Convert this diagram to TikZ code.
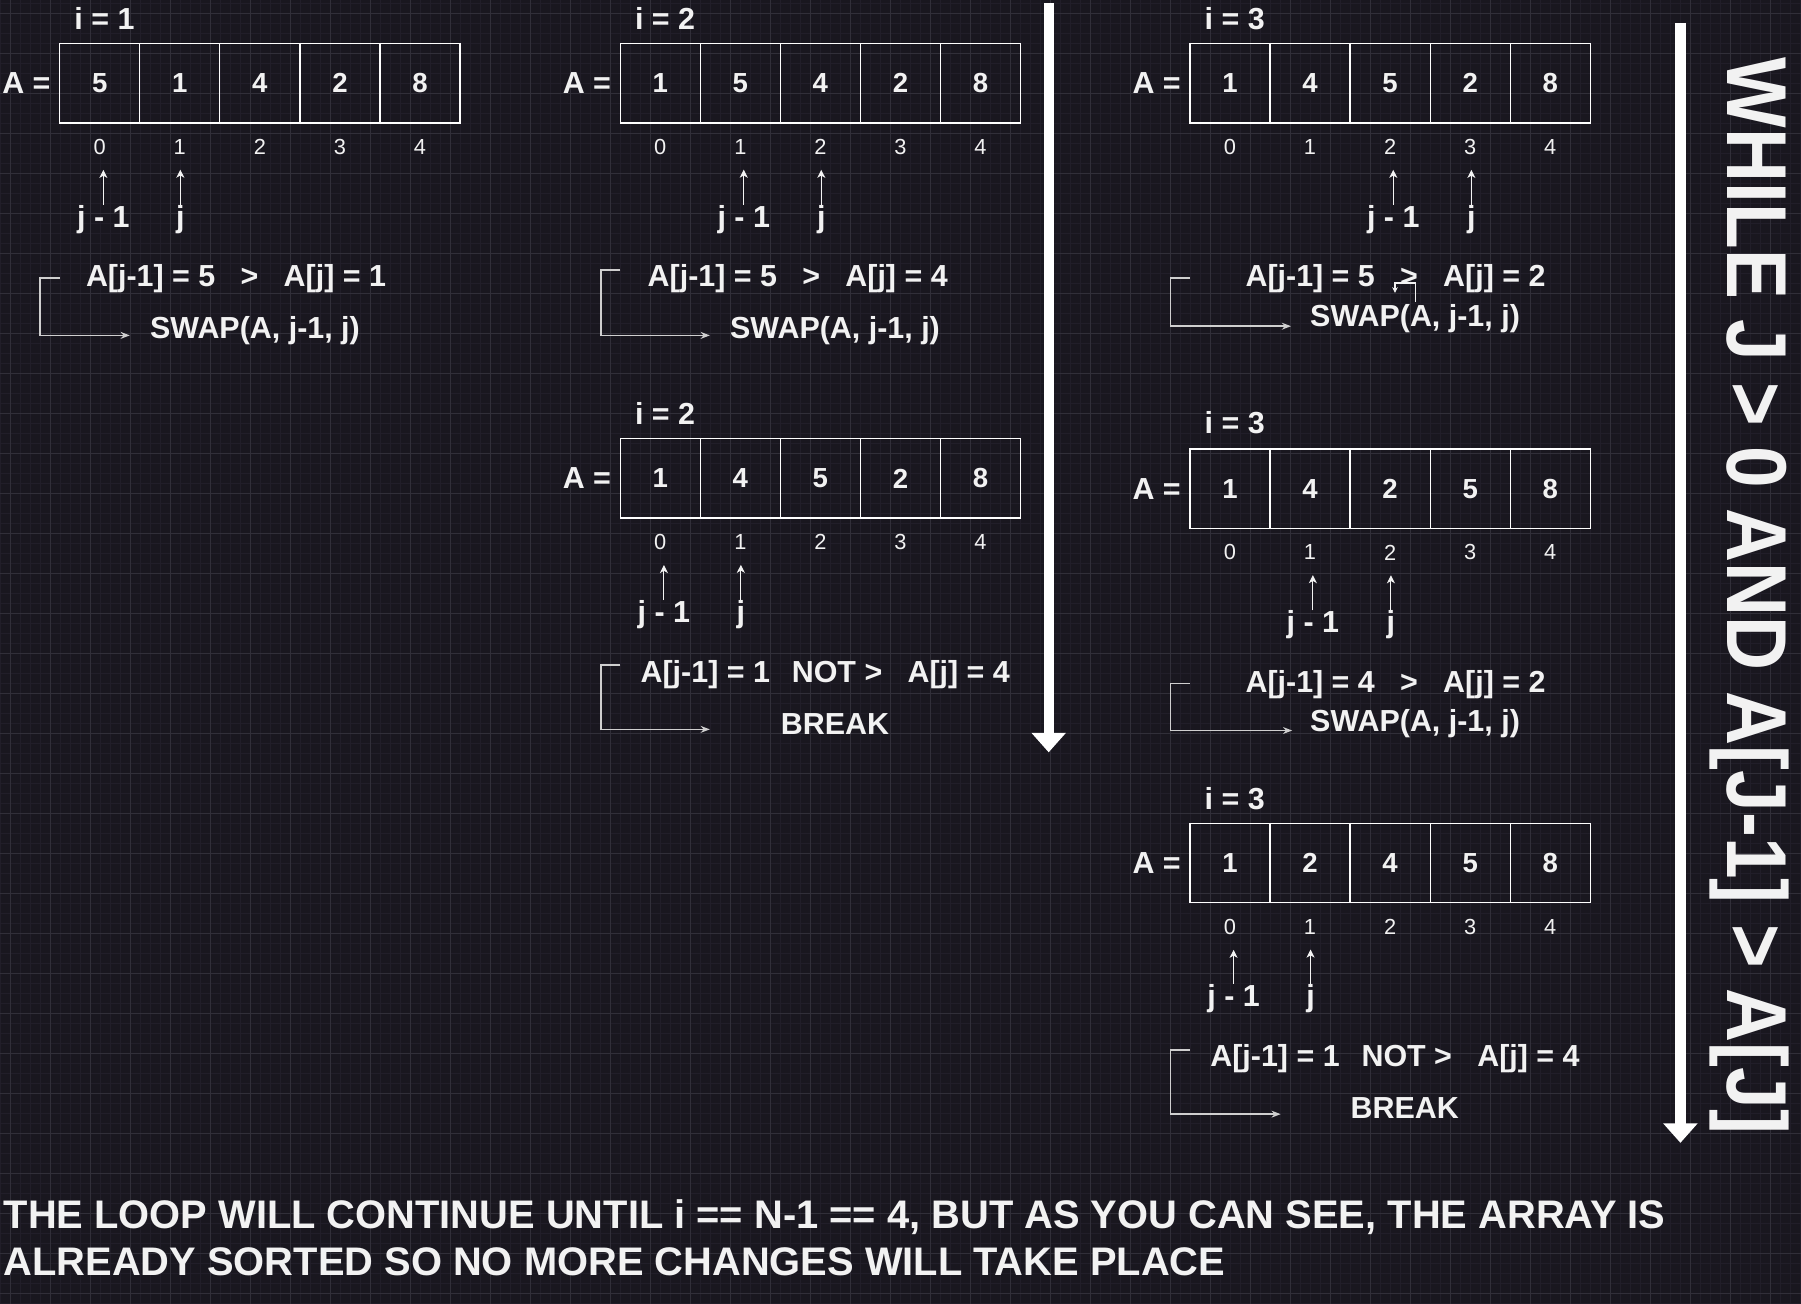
\documentclass[tikz,border=0pt]{standalone}
\usepackage{fontspec}
\setmainfont{Liberation Sans}
\newfontfamily\tallfont{Liberation Sans}[FakeStretch=0.88]
\usetikzlibrary{arrows.meta,positioning}
\definecolor{bgdark}{HTML}{19171F}
\definecolor{gridminor}{HTML}{211E29}
\definecolor{gridmajor}{HTML}{312F39}
\definecolor{txtwhite}{HTML}{F2F2F2}
\definecolor{linegray}{HTML}{CFCFCF}
\tikzset{
  lbl/.style={text=txtwhite, inner sep=0pt, font=\bfseries\fontsize{26.5}{30}\selectfont},
  cell/.style={draw=white, line width=1.1pt, minimum width=69.7pt, minimum height=69pt,
    inner sep=0pt, text=txtwhite, font=\bfseries\fontsize{24}{26}\selectfont},
  idx/.style={text=txtwhite, inner sep=0pt, font=\fontsize{19}{22}\selectfont},
  ptr/.style={draw=txtwhite, line width=0.9pt, shorten >=13pt,
    -{Stealth[length=7pt,width=7pt,inset=2pt]}},
  elbowline/.style={draw=linegray, line width=1.4pt, -{Stealth[length=8pt,width=6pt]}},
  straytip/.style={draw=txtwhite, line width=1pt, -{Stealth[length=5pt,width=5pt]}},
  loopline/.style={draw=white, line width=9pt, -{Triangle[length=17pt,width=29pt]}},
}
\begin{document}
\begin{tikzpicture}[x=1pt,y=-1pt]
\fill[bgdark] (0,0) rectangle (1568,1135);
\useasboundingbox (0,0) rectangle (1568,1135);
% background grid
\foreach \gx in {0,...,180} \draw[gridminor,line width=0.6pt] ({8.706*\gx},0) -- ({8.706*\gx},1135);
\foreach \gy in {0,...,130} \draw[gridminor,line width=0.6pt] (0,{2.6+8.706*\gy}) -- (1568,{2.6+8.706*\gy});
\foreach \gx in {0,...,45} \draw[gridmajor,line width=0.8pt] ({8.71+34.83*\gx},0) -- ({8.71+34.83*\gx},1135);
\foreach \gy in {0,...,32} \draw[gridmajor,line width=0.8pt] (0,{11.3+34.83*\gy}) -- (1568,{11.3+34.83*\gy});

% i = 1
\node[lbl] (t1) at (91,16) {i = 1};
\node[lbl] (eq1) at (23,72.5) {A =};
\foreach \v [count=\k from 0] in {5,1,4,2,8}{
  \node[cell] (r1c\k) at ({86.85+69.7*\k},72.5) {\v};
  \node[idx] (r1i\k) at ({86.85+69.7*\k},128) {\k};
}
\node[lbl] (r1p) at (90,191) {j - 1};
\node[lbl] (r1q) at (157,191) {j};
\draw[ptr] (r1p.north) -- (r1p.north |- r1i0.south);
\draw[ptr] (r1q.north) -- (r1q.north |- r1i1.south);
\node[lbl] (c1) at (205.5,243) {A[j-1] = 5\hspace{22pt}>\hspace{22pt}A[j] = 1};
\node[lbl] (s1) at (222,288) {SWAP(A, j-1, j)};
\coordinate (b1a) at (52,242);
\coordinate (b1b) at (113,292);
\draw[elbowline] (b1a) -- ++(-17,0) |- (b1b);

% i = 2, first pass
\node[lbl] (t2) at (579,16) {i = 2};
\node[lbl] (eq2) at (511,72.5) {A =};
\foreach \v [count=\k from 0] in {1,5,4,2,8}{
  \node[cell] (r2c\k) at ({574.85+69.7*\k},72.5) {\v};
  \node[idx] (r2i\k) at ({574.85+69.7*\k},128) {\k};
}
\node[lbl] (r2p) at (647.5,191) {j - 1};
\node[lbl] (r2q) at (715,191) {j};
\draw[ptr] (r2p.north) -- (r2p.north |- r2i1.south);
\draw[ptr] (r2q.north) -- (r2q.north |- r2i2.south);
\node[lbl] (c2) at (694.5,243) {A[j-1] = 5\hspace{22pt}>\hspace{22pt}A[j] = 4};
\node[lbl] (s2) at (727,288) {SWAP(A, j-1, j)};
\coordinate (b2a) at (540,235);
\coordinate (b2b) at (618,292);
\draw[elbowline] (b2a) -- ++(-17,0) |- (b2b);

% i = 2, second pass
\node[lbl] (t3) at (579,360) {i = 2};
\node[lbl] (eq3) at (511,416.5) {A =};
\foreach \v [count=\k from 0] in {1,4,5,2,8}{
  \node[cell] (r3c\k) at ({574.85+69.7*\k},416.5) {\v};
  \node[idx] (r3i\k) at ({574.85+69.7*\k},472) {\k};
}
\node[lbl] (r3p) at (578,535) {j - 1};
\node[lbl] (r3q) at (645,535) {j};
\draw[ptr] (r3p.north) -- (r3p.north |- r3i0.south);
\draw[ptr] (r3q.north) -- (r3q.north |- r3i1.south);
\node[lbl] (c3) at (718.5,587) {A[j-1] = 1\hspace{19pt}NOT >\hspace{22pt}A[j] = 4};
\node[lbl] (s3) at (727,630) {BREAK};
\coordinate (b3a) at (540,579);
\coordinate (b3b) at (618,635);
\draw[elbowline] (b3a) -- ++(-17,0) |- (b3b);

% loop arrow, middle
\coordinate (l1a) at (913,3);
\coordinate (l1b) at (913,655);
\draw[loopline] (l1a) -- (l1b);

% i = 3, first pass
\node[lbl] (t4) at (1075,16) {i = 3};
\node[lbl] (eq4) at (1007,72.5) {A =};
\foreach \v [count=\k from 0] in {1,4,5,2,8}{
  \node[cell] (r4c\k) at ({1070.85+69.7*\k},72.5) {\v};
  \node[idx] (r4i\k) at ({1070.85+69.7*\k},128) {\k};
}
\node[lbl] (r4p) at (1213,191) {j - 1};
\node[lbl] (r4q) at (1281,191) {j};
\draw[ptr] (r4p.north) -- (r4p.north |- r4i2.south);
\draw[ptr] (r4q.north) -- (r4q.north |- r4i3.south);
\node[lbl] (c4) at (1215,243) {A[j-1] = 5\hspace{22pt}>\hspace{22pt}A[j] = 2};
\node[lbl] (s4) at (1232,277) {SWAP(A, j-1, j)};
\coordinate (b4a) at (1036,242);
\coordinate (b4b) at (1124,284);
\draw[elbowline] (b4a) -- ++(-17,0) |- (b4b);
\coordinate (k4a) at (1232,263);
\coordinate (k4b) at (1214.5,255);
\draw[straytip] (k4a) -- ++(0,-16.6) -| (k4b);

% i = 3, second pass
\node[lbl] (t5) at (1075,368) {i = 3};
\node[lbl] (eq5) at (1007,425.5) {A =};
\foreach \v [count=\k from 0] in {1,4,2,5,8}{
  \node[cell] (r5c\k) at ({1070.85+69.7*\k},425.5) {\v};
  \node[idx] (r5i\k) at ({1070.85+69.7*\k},481) {\k};
}
\node[lbl] (r5p) at (1143,544) {j - 1};
\node[lbl] (r5q) at (1211,544) {j};
\draw[ptr] (r5p.north) -- (r5p.north |- r5i1.south);
\draw[ptr] (r5q.north) -- (r5q.north |- r5i2.south);
\node[lbl] (c5) at (1215,596) {A[j-1] = 4\hspace{22pt}>\hspace{22pt}A[j] = 2};
\node[lbl] (s5) at (1232,630) {SWAP(A, j-1, j)};
\coordinate (b5a) at (1036,595);
\coordinate (b5b) at (1125,636);
\draw[elbowline] (b5a) -- ++(-17,0) |- (b5b);

% i = 3, third pass
\node[lbl] (t6) at (1075,695) {i = 3};
\node[lbl] (eq6) at (1007,751.5) {A =};
\foreach \v [count=\k from 0] in {1,2,4,5,8}{
  \node[cell] (r6c\k) at ({1070.85+69.7*\k},751.5) {\v};
  \node[idx] (r6i\k) at ({1070.85+69.7*\k},807) {\k};
}
\node[lbl] (r6p) at (1074,869) {j - 1};
\node[lbl] (r6q) at (1141,869) {j};
\draw[ptr] (r6p.north) -- (r6p.north |- r6i0.south);
\draw[ptr] (r6q.north) -- (r6q.north |- r6i1.south);
\node[lbl] (c6) at (1214.5,922) {A[j-1] = 1\hspace{19pt}NOT >\hspace{22pt}A[j] = 4};
\node[lbl] (s6) at (1223,965) {BREAK};
\coordinate (b6a) at (1036,914);
\coordinate (b6b) at (1115,970);
\draw[elbowline] (b6a) -- ++(-17,0) |- (b6b);

% loop arrow, right, with the while condition
\coordinate (l2a) at (1463,20);
\coordinate (l2b) at (1463,995);
\draw[loopline] (l2a) -- (l2b);
\node[text=txtwhite, inner sep=0pt, rotate=-90, font=\tallfont\bfseries\fontsize{74}{80}\selectfont]
  (wcond) at (1523,519) {WHILE J > 0 AND A[J-1] > A[J]};

% note at the bottom
\node[text=txtwhite, inner sep=0pt, anchor=north west, align=left,
  font=\bfseries\fontsize{34.7}{41}\selectfont] (note) at (3,1044)
  {THE LOOP WILL CONTINUE UNTIL i == N-1 == 4, BUT AS YOU CAN SEE, THE ARRAY IS\\
   ALREADY SORTED SO NO MORE CHANGES WILL TAKE PLACE};
\end{tikzpicture}
\end{document}
